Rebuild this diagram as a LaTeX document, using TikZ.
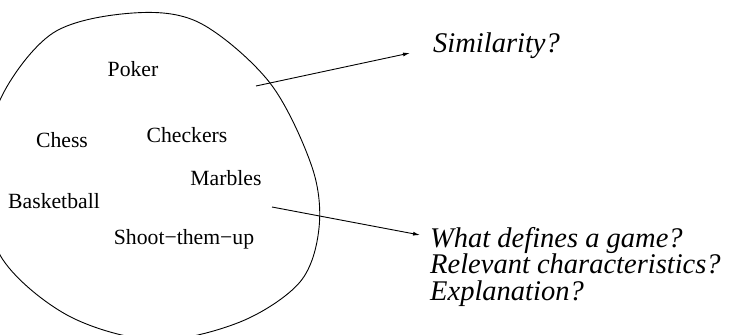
\documentclass[tikz,border=0pt]{standalone}
\usepackage{fontspec}
\setmainfont{Liberation Serif}
\usetikzlibrary{positioning}
\usetikzlibrary{arrows.meta}
\usetikzlibrary{calc}

\begin{document}
\begin{tikzpicture}[x=1pt,y=-1pt]
	\tikzset{
		game/.style={inner sep=0, anchor=base, font=\fontsize{21.7}{26}\selectfont},
		question/.style={inner sep=0, align=left, font=\fontsize{28.5}{26.5}\selectfont\itshape},
		pointer/.style={-{Latex[length=7pt,width=4pt]}, line width=0.9pt},
	}
	\clip (0,0) rectangle (729,335);

	% the set of games
	\draw[line width=0.9pt] plot[smooth cycle, tension=0.55] coordinates {
		(133,13) (200,23) (270,83) (312,167) (319,228) (300,282) (240,322)
		(155,340) (67,315) (0,255) (-11,175) (0,100) (53,33)};

	\node[game] (poker) at (133,76) {Poker};
	\node[game] (chess) at (62,147) {Chess};
	\node[game] (checkers) at (187,142) {Checkers};
	\node[game] (marbles) at (226,185) {Marbles};
	\node[game] (basket) at (54,208) {Basketball};
	\node[game] (shoot) at (184,244) {Shoot−them−up};

	\node[question, anchor=base west] (sim) at (433,52) {Similarity?};
	\node[question, anchor=north west] (defs) at (430,227)
		{What defines a game?\\Relevant characteristics?\\Explanation?};

	\coordinate (simstart) at (256,86);
	\coordinate (defstart) at (272,207);
	\draw[pointer] (simstart) -- ([xshift=-23pt,yshift=-1pt]sim.base west);
	\draw[pointer] (defstart) -- ([shift={(-10pt,-8pt)}]defs.north west);
\end{tikzpicture}
\end{document}
